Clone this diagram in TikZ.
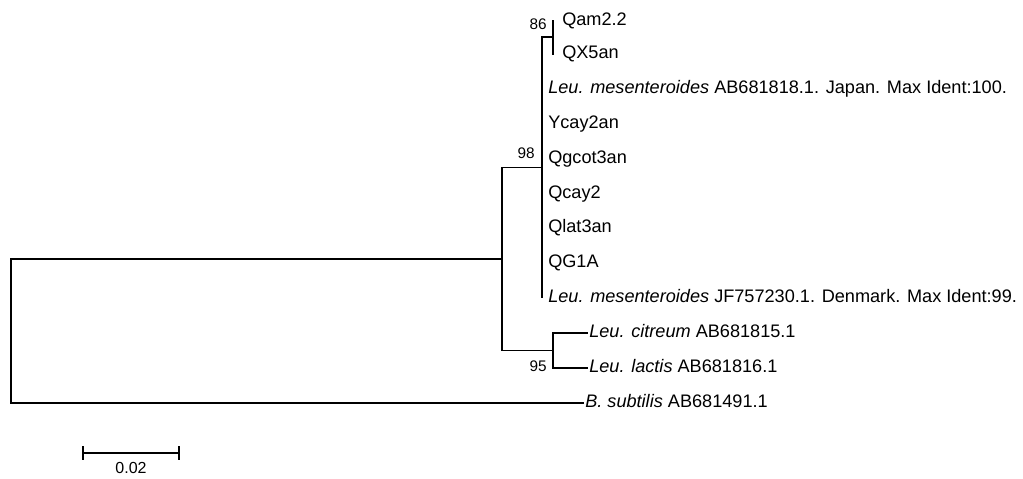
\documentclass[tikz,border=0pt]{standalone}
\usepackage{fontspec}
\setmainfont{Liberation Sans}
\begin{document}
\begin{tikzpicture}[x=0.75pt,y=-0.75pt,
  branch/.style={line width=1.35pt, line cap=rect},
  leaf/.style={anchor=west, inner ysep=0pt, text height=0.716em, text depth=0pt,
    font=\fontsize{13.6}{16}\selectfont},
  boot/.style={anchor=east, inner sep=0pt, text height=0.716em, text depth=0pt,
    font=\fontsize{11.5}{13}\selectfont},
  l98/.style={leaf, inner xsep=4.5pt},
  l86/.style={leaf, inner xsep=6.75pt},
  lout/.style={leaf, inner xsep=1.5pt}]
\useasboundingbox (0,0) rectangle (1023,478);
% internal nodes
\coordinate (r) at (11,331);
\coordinate (n1) at (502,259);
\coordinate (n98) at (542,167.4);
\coordinate (n86) at (553,37.25);
\coordinate (n95) at (553,350.5);
% leaves
\node[l86] (qam) at (553,20.5) {Qam2.2};
\node[l86] (qx5) at (553,54) {QX5an};
\node[l98] (lm1) at (542,89) {\textit{Leu. mesenteroides} AB681818.1. Japan. Max Ident:100.};
\node[l98] (ycay) at (542,124) {Ycay2an};
\node[l98] (qgcot) at (542,158.5) {Qgcot3an};
\node[l98] (qcay) at (542,193.5) {Qcay2};
\node[l98] (qlat) at (542,228) {Qlat3an};
\node[l98] (qg1a) at (542,263) {QG1A};
\node[l98] (lm2) at (542,297.5) {\textit{Leu. mesenteroides} JF757230.1. Denmark. Max Ident:99.};
\node[lout] (cit) at (587,333) {\textit{Leu. citreum} AB681815.1};
\node[lout] (lac) at (587,368) {\textit{Leu. lactis} AB681816.1};
\node[lout] (bsub) at (583,403) {\textit{B. subtilis} AB681491.1};
% branches
\draw[branch] (r) |- (n1);
\draw[branch] (r) |- (bsub.west);
\draw[branch] (n1) |- (n98);
\draw[branch] (n1) |- (n95);
\draw[branch] (n95) |- (cit.west);
\draw[branch] (n95) |- (lac.west);
\draw[branch] (n98) |- (n86);
\foreach \l in {lm1,ycay,qgcot,qcay,qlat,qg1a,lm2} \draw[branch] (n98) |- (\l.west);
\draw[branch] (n86) |- (qam.west);
\draw[branch] (n86) |- (qx5.west);
% bootstrap values
\node[boot] (b86) at (547,25) {86};
\node[boot] (b98) at (535,154) {98};
\node[boot] (b95) at (547,367) {95};
% scale bar
\coordinate (sbl) at (83,453);
\coordinate (sbr) at (179,453);
\draw[line width=1.35pt] (sbl) -- (sbr);
\draw[line width=1.35pt] ([yshift=-4.9pt]sbl) -- ([yshift=4.9pt]sbl);
\draw[line width=1.35pt] ([yshift=-4.9pt]sbr) -- ([yshift=4.9pt]sbr);
\node[font=\fontsize{12}{14}\selectfont, inner sep=0pt, text height=0.716em, text depth=0pt] (sblab) at (131,469) {0.02};
\end{tikzpicture}
\end{document}
